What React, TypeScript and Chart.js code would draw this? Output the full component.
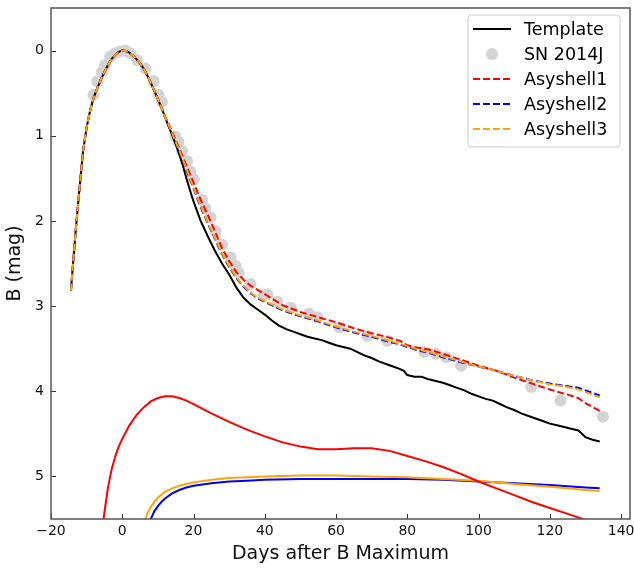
import React, { useEffect, useRef } from "react";
import { Chart, registerables } from "chart.js";

Chart.register(...registerables);

// ---------- data ----------
const xTicks = [-20, 0, 20, 40, 60, 80, 100, 120, 140];
const yTicks = [0, 1, 2, 3, 4, 5];

const templateDays = [-14.4, -14, -13, -12, -11, -10, -9, -8, -7, -6, -5, -4, -3, -2, -1, 0, 1, 2, 3, 4, 5, 6, 7, 8, 9, 10, 11, 12, 13, 14, 15, 16, 17, 18, 19, 20, 22, 24, 26, 28, 30, 32, 34, 36, 38, 40, 42, 44, 46, 48, 50, 52, 54, 56, 58, 60, 62, 64, 66, 68, 70, 72, 74, 76, 78, 79, 80, 82, 84, 86, 88, 90, 92, 94, 96, 98, 100, 102, 104, 106, 108, 110, 112, 114, 116, 118, 120, 122, 124, 126, 128, 129, 130, 132, 134];
const templateMag = [2.82, 2.6, 2.08, 1.62, 1.18, 0.9, 0.7, 0.55, 0.44, 0.34, 0.25, 0.17, 0.1, 0.05, 0.015, 0.0, 0.005, 0.025, 0.06, 0.1, 0.15, 0.21, 0.29, 0.38, 0.47, 0.57, 0.67, 0.78, 0.89, 0.99, 1.1, 1.22, 1.35, 1.5, 1.64, 1.77, 2.0, 2.18, 2.35, 2.5, 2.63, 2.78, 2.9, 2.98, 3.04, 3.1, 3.17, 3.23, 3.27, 3.3, 3.33, 3.36, 3.38, 3.4, 3.43, 3.46, 3.48, 3.5, 3.54, 3.58, 3.61, 3.65, 3.68, 3.71, 3.74, 3.76, 3.81, 3.83, 3.83, 3.86, 3.88, 3.9, 3.93, 3.96, 3.99, 4.03, 4.06, 4.09, 4.11, 4.15, 4.19, 4.22, 4.26, 4.29, 4.32, 4.35, 4.38, 4.4, 4.42, 4.44, 4.46, 4.5, 4.54, 4.57, 4.59];

const snDays = [-8.1, -7, -5.7, -4.8, -3.4, -2, -0.6, 0.8, 2.3, 4.1, 6.5, 8.8, 10.2, 11.1, 14.9, 15.8, 16.8, 18.2, 19.1, 20.1, 22.4, 23.3, 24.8, 26.2, 28, 30.4, 31.8, 32.7, 36, 39.7, 40.7, 43.5, 47.3, 52.4, 54.8, 60.9, 68.8, 74.4, 84.8, 88, 90.9, 95.1, 114.8, 123, 134.9];
const snMag = [0.52, 0.36, 0.25, 0.17, 0.07, 0.03, 0.01, 0.0, 0.03, 0.11, 0.21, 0.36, 0.52, 0.6, 1.01, 1.07, 1.18, 1.3, 1.42, 1.51, 1.75, 1.85, 1.96, 2.12, 2.28, 2.43, 2.53, 2.61, 2.74, 2.88, 2.86, 2.95, 3.02, 3.09, 3.13, 3.25, 3.35, 3.41, 3.54, 3.56, 3.6, 3.7, 3.95, 4.11, 4.3];

const shellDays = [-14.4, -14, -13, -12, -11, -10, -9, -8, -7, -6, -5, -4, -3, -2, -1, 0, 1, 2, 3, 4, 5, 6, 7, 8, 9, 10, 11, 12, 13, 14, 15, 16, 17, 18, 19, 20, 22, 24, 26, 28, 30, 32, 34, 36, 38, 40, 45, 50, 55, 60, 65, 70, 75, 78, 80, 83, 86, 90, 95, 100, 105, 110, 115, 120, 125, 128, 130, 134];
const shell1Mag = [2.82, 2.6, 2.08, 1.62, 1.18, 0.9, 0.7, 0.55, 0.44, 0.34, 0.25, 0.17, 0.1, 0.05, 0.015, 0.0, 0.005, 0.025, 0.06, 0.1, 0.15, 0.21, 0.29, 0.38, 0.47, 0.57, 0.67, 0.77, 0.86, 0.95, 1.05, 1.15, 1.25, 1.35, 1.45, 1.55, 1.75, 1.93, 2.12, 2.32, 2.47, 2.6, 2.69, 2.76, 2.81, 2.86, 2.99, 3.07, 3.13, 3.19, 3.26, 3.32, 3.37, 3.41, 3.46, 3.49, 3.51, 3.56, 3.63, 3.7, 3.76, 3.84, 3.91, 3.98, 4.04, 4.08, 4.14, 4.23];
const shell2Mag = [2.82, 2.6, 2.08, 1.62, 1.18, 0.9, 0.7, 0.55, 0.44, 0.34, 0.25, 0.17, 0.1, 0.05, 0.015, 0.0, 0.005, 0.025, 0.06, 0.1, 0.15, 0.21, 0.29, 0.38, 0.47, 0.57, 0.67, 0.78, 0.88, 0.98, 1.08, 1.18, 1.29, 1.4, 1.51, 1.62, 1.83, 2.03, 2.21, 2.39, 2.54, 2.67, 2.77, 2.85, 2.91, 2.95, 3.05, 3.12, 3.18, 3.25, 3.31, 3.36, 3.42, 3.45, 3.48, 3.52, 3.55, 3.6, 3.66, 3.71, 3.76, 3.82, 3.87, 3.91, 3.94, 3.96, 3.99, 4.05];
const shell3Mag = [2.82, 2.6, 2.08, 1.62, 1.18, 0.9, 0.7, 0.55, 0.44, 0.34, 0.25, 0.17, 0.1, 0.05, 0.015, 0.0, 0.005, 0.025, 0.06, 0.1, 0.15, 0.21, 0.29, 0.38, 0.47, 0.57, 0.67, 0.78, 0.87, 0.97, 1.07, 1.17, 1.28, 1.39, 1.5, 1.61, 1.82, 2.02, 2.2, 2.38, 2.53, 2.66, 2.76, 2.84, 2.9, 2.94, 3.04, 3.11, 3.17, 3.24, 3.3, 3.35, 3.41, 3.44, 3.47, 3.51, 3.54, 3.59, 3.65, 3.71, 3.76, 3.82, 3.87, 3.92, 3.95, 3.98, 4.01, 4.07];

const redSolidDays = [-5.6, -5, -4, -3, -2, -1, 0, 2, 4, 6, 8, 10, 12, 14, 16, 18, 20, 25, 30, 35, 40, 45, 50, 55, 60, 65, 70, 75, 80, 85, 90, 95, 100, 105, 110, 115, 120, 125, 130, 134];
const redSolidMag = [5.62, 5.42, 5.13, 4.92, 4.77, 4.65, 4.56, 4.4, 4.28, 4.19, 4.12, 4.08, 4.06, 4.06, 4.08, 4.11, 4.15, 4.26, 4.36, 4.45, 4.53, 4.6, 4.65, 4.68, 4.68, 4.67, 4.67, 4.7, 4.76, 4.82, 4.89, 4.97, 5.06, 5.14, 5.22, 5.3, 5.37, 5.44, 5.51, 5.57];
const blueSolidDays = [7.5, 8, 9, 10, 11, 12, 14, 16, 18, 20, 25, 30, 35, 40, 50, 60, 70, 80, 90, 100, 110, 120, 130, 134];
const blueSolidMag = [5.6, 5.5, 5.41, 5.35, 5.3, 5.26, 5.2, 5.16, 5.13, 5.11, 5.08, 5.06, 5.05, 5.04, 5.03, 5.03, 5.03, 5.03, 5.04, 5.06, 5.08, 5.1, 5.13, 5.14];
const orangeSolidDays = [6, 6.5, 7, 8, 9, 10, 12, 14, 16, 18, 20, 25, 30, 35, 40, 50, 60, 70, 80, 90, 100, 110, 120, 130, 134];
const orangeSolidMag = [5.6, 5.5, 5.44, 5.36, 5.3, 5.25, 5.18, 5.14, 5.11, 5.09, 5.07, 5.04, 5.02, 5.01, 5.0, 4.99, 4.99, 5.0, 5.01, 5.03, 5.05, 5.09, 5.12, 5.16, 5.17];

const FONT = "'DejaVu Sans', sans-serif";
const DASH = [7, 3];

const pts = (xs: number[], ys: number[]) => xs.map((x, i) => ({ x, y: ys[i] }));

const legendItems = [
  { label: "Template", color: "#000000", kind: "solid" },
  { label: "SN 2014J", color: "#d3d3d3", kind: "dot" },
  { label: "Asyshell1", color: "#ff0000", kind: "dash" },
  { label: "Asyshell2", color: "#0000ff", kind: "dash" },
  { label: "Asyshell3", color: "#ffa500", kind: "dash" },
];

const decorPlugin = {
  id: "decor",
  afterDatasetsDraw(chart: any) {
    const { ctx, chartArea: a, scales } = chart;
    ctx.save();
    // inward ticks
    ctx.strokeStyle = "#333";
    ctx.lineWidth = 1;
    ctx.setLineDash([]);
    xTicks.forEach((v) => {
      const px = Math.round(scales.x.getPixelForValue(v)) + 0.5;
      ctx.beginPath();
      ctx.moveTo(px, a.bottom);
      ctx.lineTo(px, a.bottom - 5);
      ctx.stroke();
    });
    yTicks.forEach((v) => {
      const py = Math.round(scales.y.getPixelForValue(v)) + 0.5;
      ctx.beginPath();
      ctx.moveTo(a.left, py);
      ctx.lineTo(a.left + 5, py);
      ctx.stroke();
    });
    // frame
    ctx.strokeStyle = "#555";
    ctx.lineWidth = 1.5;
    ctx.strokeRect(a.left, a.top, a.right - a.left, a.bottom - a.top);

    // legend
    const bw = 152;
    const bh = 132;
    const bx = a.right - 10 - bw;
    const by = a.top + 7;
    const r = 3;
    ctx.beginPath();
    ctx.moveTo(bx + r, by);
    ctx.lineTo(bx + bw - r, by);
    ctx.arcTo(bx + bw, by, bx + bw, by + r, r);
    ctx.lineTo(bx + bw, by + bh - r);
    ctx.arcTo(bx + bw, by + bh, bx + bw - r, by + bh, r);
    ctx.lineTo(bx + r, by + bh);
    ctx.arcTo(bx, by + bh, bx, by + bh - r, r);
    ctx.lineTo(bx, by + r);
    ctx.arcTo(bx, by, bx + r, by, r);
    ctx.closePath();
    ctx.fillStyle = "rgba(255,255,255,0.85)";
    ctx.fill();
    ctx.strokeStyle = "#cccccc";
    ctx.lineWidth = 1;
    ctx.stroke();

    ctx.font = `17.5px ${FONT}`;
    ctx.textBaseline = "middle";
    ctx.textAlign = "left";
    legendItems.forEach((it, i) => {
      const cy = by + 14 + i * 25;
      const x0 = bx + 5;
      const x1 = bx + 43;
      if (it.kind === "dot") {
        ctx.beginPath();
        ctx.fillStyle = it.color;
        ctx.arc((x0 + x1) / 2, cy, 6, 0, Math.PI * 2);
        ctx.fill();
      } else {
        ctx.beginPath();
        ctx.strokeStyle = it.color;
        ctx.lineWidth = 2;
        ctx.setLineDash(it.kind === "dash" ? DASH : []);
        ctx.moveTo(x0, cy);
        ctx.lineTo(x1, cy);
        ctx.stroke();
        ctx.setLineDash([]);
      }
      ctx.fillStyle = "#000";
      ctx.fillText(it.label, bx + 56, cy + 1);
    });
    ctx.restore();
  },
};

const lineDs = (label: string, xs: number[], ys: number[], color: string, dashed: boolean, order: number) => ({
  label,
  data: pts(xs, ys),
  showLine: true,
  borderColor: color,
  backgroundColor: color,
  borderWidth: 2,
  borderDash: dashed ? DASH : [],
  pointRadius: 0,
  pointHoverRadius: 0,
  tension: 0,
  fill: false,
  clip: 0,
  order,
});

export default function App() {
  const ref = useRef<HTMLCanvasElement | null>(null);
  useEffect(() => {
    if (!ref.current) return;
    Chart.defaults.font.family = FONT;
    const chart = new Chart(ref.current, {
      type: "scatter",
      data: {
        datasets: [
          lineDs("Asyshell3", shellDays, shell3Mag, "#ffa500", true, 1),
          lineDs("Asyshell2", shellDays, shell2Mag, "#0000ff", true, 2),
          lineDs("Asyshell1", shellDays, shell1Mag, "#ff0000", true, 3),
          lineDs("Template", templateDays, templateMag, "#000000", false, 4),
          {
            label: "SN 2014J",
            data: pts(snDays, snMag),
            showLine: false,
            pointRadius: 6,
            pointHoverRadius: 6,
            pointBorderWidth: 0,
            pointBackgroundColor: "#d3d3d3",
            backgroundColor: "#d3d3d3",
            borderColor: "#d3d3d3",
            clip: 0,
            order: 5,
          },
          lineDs("", redSolidDays, redSolidMag, "#ff0000", false, 6),
          lineDs("", blueSolidDays, blueSolidMag, "#0000ff", false, 7),
          lineDs("", orangeSolidDays, orangeSolidMag, "#ffa500", false, 6.5),
        ],
      },
      options: {
        responsive: false,
        animation: false,
        events: [],
        layout: { autoPadding: false, padding: { top: 8, right: 4, left: 0, bottom: 0 } },
        plugins: { legend: { display: false }, tooltip: { enabled: false } },
        scales: {
          x: {
            type: "linear",
            min: -20,
            max: 142.5,
            grid: { display: false, drawTicks: false },
            border: { display: false },
            afterBuildTicks: (s: any) => {
              s.ticks = xTicks.map((v) => ({ value: v }));
            },
            afterFit: (s: any) => {
              s.height = 50;
              s.paddingLeft = 0;
              s.paddingRight = 0;
            },
            ticks: {
              autoSkip: false,
              maxRotation: 0,
              padding: 4,
              color: "#111",
              font: { size: 14, family: FONT },
              callback: (v: any) => String(v).replace("-", "\u2212"),
            },
            title: {
              display: true,
              text: "Days after B Maximum",
              color: "#111",
              font: { size: 19, family: FONT },
              padding: { top: 0, bottom: 4 },
            },
          },
          y: {
            type: "linear",
            reverse: true,
            min: -0.5,
            max: 5.5,
            grid: { display: false, drawTicks: false },
            border: { display: false },
            afterBuildTicks: (s: any) => {
              s.ticks = yTicks.map((v) => ({ value: v }));
            },
            afterFit: (s: any) => {
              s.width = 51;
              s.paddingTop = 0;
              s.paddingBottom = 0;
            },
            ticks: {
              autoSkip: false,
              padding: 7,
              color: "#111",
              font: { size: 14, family: FONT },
              callback: (v: any) => String(v),
            },
            title: {
              display: true,
              text: "B (mag)",
              color: "#111",
              font: { size: 19, family: FONT },
              padding: { top: 4, bottom: 0 },
            },
          },
        },
      },
      plugins: [decorPlugin],
    } as any);
    return () => chart.destroy();
  }, []);

  return (
    <div style={{ position: "fixed", left: 0, top: 0, width: 634, height: 569, background: "#fff" }}>
      <canvas ref={ref} width={634} height={569} style={{ width: 634, height: 569, display: "block" }} />
    </div>
  );
}
